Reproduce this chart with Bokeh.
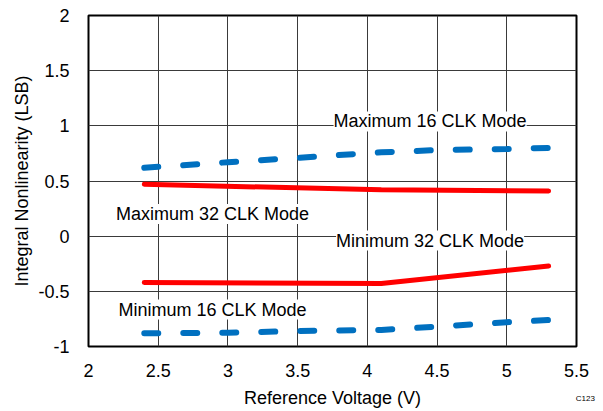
from bokeh.plotting import figure
from bokeh.models import Label, FixedTicker, Range1d, LinearAxis
from bokeh.embed import file_html
from bokeh.resources import INLINE

# Data
max16_x = [2.4, 3.0, 3.5, 4.1, 4.5, 5.0, 5.3]
max16_y = [0.62, 0.67, 0.71, 0.76, 0.78, 0.79, 0.80]
max32_x = [2.4, 4.1, 5.3]
max32_y = [0.47, 0.42, 0.41]
min32_x = [2.4, 4.1, 5.3]
min32_y = [-0.42, -0.43, -0.27]
min16_x = [2.4, 3.0, 3.5, 4.1, 4.5, 5.0, 5.3]
min16_y = [-0.88, -0.875, -0.86, -0.85, -0.82, -0.78, -0.76]

x_ticks = [2, 2.5, 3, 3.5, 4, 4.5, 5, 5.5]
x_tick_labels = ["2", "2.5", "3", "3.5", "4", "4.5", "5", "5.5"]
y_ticks = [-1, -0.5, 0, 0.5, 1, 1.5, 2]
y_tick_labels = ["-1", "-0.5", "0", "0.5", "1", "1.5", "2"]

labels = ["Maximum 16 CLK Mode", "Maximum 32 CLK Mode", "Minimum 32 CLK Mode", "Minimum 16 CLK Mode"]
label_x = [4.45, 2.89, 4.45, 2.89]
label_y = [1.04, 0.20, -0.04, -0.665]
figure_id = "C123"

FONT = "Liberation Sans"

p = figure(width=603, height=411, output_backend="svg", toolbar_location=None,
           x_range=Range1d(2, 5.5), y_range=Range1d(-1, 2),
           min_border_left=88, min_border_right=27, min_border_top=15, min_border_bottom=65)

p.background_fill_color = "white"
p.border_fill_color = "white"
p.outline_line_color = "black"
p.outline_line_width = 2

for ax in (p.xaxis[0], p.yaxis[0]):
    ax.axis_line_color = None
    ax.major_tick_line_color = None
    ax.minor_tick_line_color = None
    ax.major_label_text_font = FONT
    ax.major_label_text_font_size = "18px"
    ax.major_label_text_color = "black"
    ax.axis_label_text_font = FONT
    ax.axis_label_text_font_size = "18px"
    ax.axis_label_text_font_style = "normal"
    ax.axis_label_text_color = "black"

p.xaxis.ticker = FixedTicker(ticks=x_ticks)
p.yaxis.ticker = FixedTicker(ticks=y_ticks)
p.xaxis.major_label_overrides = {t: l for t, l in zip(x_ticks, x_tick_labels)}
p.yaxis.major_label_overrides = {t: l for t, l in zip(y_ticks, y_tick_labels)}
p.xaxis.axis_label = "Reference Voltage (V)"
p.yaxis.axis_label = "Integral Nonlinearity (LSB)"
p.xaxis.major_label_standoff = 11
p.yaxis.major_label_standoff = 13
p.xaxis.axis_label_standoff = 8
p.yaxis.axis_label_standoff = 3

# small figure id in the lower right corner, via an extra bare axis
c_axis = LinearAxis(ticker=FixedTicker(ticks=[x_ticks[-1]]),
                    major_label_overrides={x_ticks[-1]: "\u00a0" * 8 + figure_id},
                    axis_line_color=None, major_tick_line_color=None, minor_tick_line_color=None,
                    major_label_text_font=FONT, major_label_text_font_size="8px",
                    major_label_text_color="black",
                    major_label_standoff=-23)
p.add_layout(c_axis, "below")

p.grid.grid_line_color = "#3a3a3a"
p.grid.grid_line_width = 1
p.grid.grid_line_alpha = 1

blue = "#0070C0"
red = "#FF0000"

p.line(max16_x, max16_y, line_color=blue, line_width=6, line_dash="14 25", line_cap="round")
p.line(min16_x, min16_y, line_color=blue, line_width=6, line_dash="14 25", line_cap="round")
p.line(max32_x, max32_y, line_color=red, line_width=5, line_cap="round")
p.line(min32_x, min32_y, line_color=red, line_width=5, line_cap="round")

for t, lx, ly in zip(labels, label_x, label_y):
    p.add_layout(Label(x=lx, y=ly, text=t, text_align="center", text_baseline="middle",
                       text_font=FONT, text_font_size="18px", text_color="black",
                       background_fill_color="white", background_fill_alpha=1.0))

open("out.html", "w").write(file_html(p, INLINE))
